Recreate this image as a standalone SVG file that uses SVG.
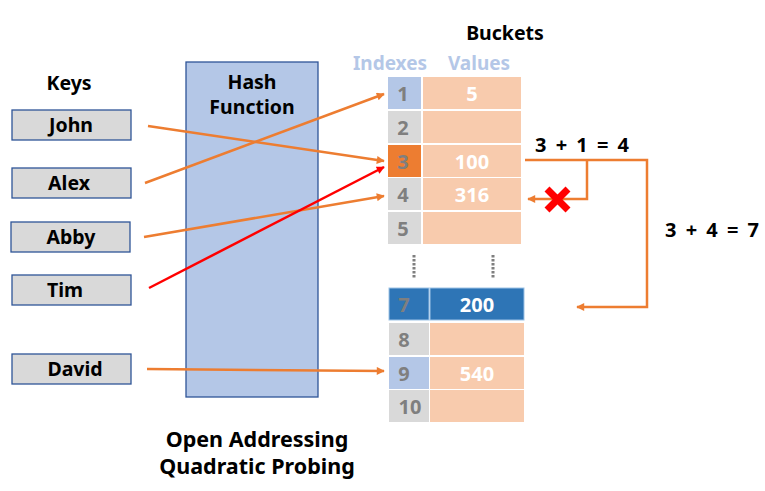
<svg xmlns="http://www.w3.org/2000/svg" width="765" height="491" viewBox="0 0 765 491">
<defs>
<style>
text{font-family:"Noto Sans","Liberation Sans",sans-serif;font-weight:bold}
.lbl{font-size:19.5px;fill:#000;text-anchor:middle}
.key{fill:#D9D9D9;stroke:#2F5597;stroke-width:1.3}
.hdr{font-size:19px;fill:#B4C7E7;text-anchor:middle}
.idx{font-size:20px;fill:#7F7F7F;text-anchor:middle}
.val{font-size:20px;fill:#fff;text-anchor:middle}
.gray{fill:#D9D9D9}
.peach{fill:#F8CBAD}
.lblue{fill:#B4C7E7}
.or{fill:none;stroke:#ED7D31;stroke-width:2.5}
.rd{fill:none;stroke:#FF0000;stroke-width:2.5}
.eq{font-size:20px;fill:#000;word-spacing:4px}
.cap{font-size:21.5px;fill:#000;text-anchor:middle}
</style>
<marker id="ao" viewBox="0 0 10 10" refX="9" refY="5" markerWidth="10" markerHeight="8" markerUnits="userSpaceOnUse" orient="auto"><path d="M0,0 L10,5 L0,10 z" fill="#ED7D31"/></marker>
<marker id="ar" viewBox="0 0 10 10" refX="9" refY="5" markerWidth="10" markerHeight="8" markerUnits="userSpaceOnUse" orient="auto"><path d="M0,0 L10,5 L0,10 z" fill="#FF0000"/></marker>
</defs>
<rect width="765" height="491" fill="#fff"/>

<g id="keys-title"><text class="lbl" x="69" y="90">Keys</text></g>
<g id="key-john"><rect class="key" x="12" y="110" width="119" height="30"/><text class="lbl" x="71" y="132">John</text></g>
<g id="key-alex"><rect class="key" x="12" y="168" width="119" height="30"/><text class="lbl" x="69" y="190">Alex</text></g>
<g id="key-abby"><rect class="key" x="11" y="222" width="119" height="30"/><text class="lbl" x="71" y="244">Abby</text></g>
<g id="key-tim"><rect class="key" x="12" y="275" width="119" height="30"/><text class="lbl" x="65" y="297">Tim</text></g>
<g id="key-david"><rect class="key" x="12" y="354" width="119" height="30"/><text class="lbl" x="75" y="376">David</text></g>

<g id="hash-function"><rect x="186" y="62" width="132" height="335" fill="#B4C7E7" stroke="#2F5597" stroke-width="1.3"/>
<text class="lbl" x="252" y="89">Hash</text><text class="lbl" x="252" y="114">Function</text></g>

<g id="buckets-title"><text class="lbl" x="505" y="40">Buckets</text>
<text class="hdr" x="390" y="70">Indexes</text><text class="hdr" x="479" y="70">Values</text></g>

<g id="bucket-1"><rect class="lblue" x="388" y="77" width="33" height="32"/><rect class="peach" x="423" y="77" width="98" height="32"/><text class="idx" x="403" y="101">1</text><text class="val" x="472" y="101">5</text></g>
<g id="bucket-2"><rect class="gray" x="388" y="111" width="33" height="32"/><rect class="peach" x="423" y="111" width="98" height="32"/><text class="idx" x="403" y="135">2</text></g>
<g id="bucket-3"><rect fill="#ED7D31" x="388" y="145" width="33" height="32"/><rect class="peach" x="423" y="145" width="98" height="32"/><text class="idx" x="403" y="169">3</text><text class="val" x="472" y="169">100</text></g>
<g id="bucket-4"><rect class="gray" x="388" y="178" width="33" height="32"/><rect class="peach" x="423" y="178" width="98" height="32"/><text class="idx" x="403" y="202">4</text><text class="val" x="472" y="202">316</text></g>
<g id="bucket-5"><rect class="gray" x="388" y="212" width="33" height="32"/><rect class="peach" x="423" y="212" width="98" height="32"/><text class="idx" x="403" y="236">5</text></g>

<g id="ellipsis"><line x1="414" y1="255" x2="414" y2="279" stroke="#7F7F7F" stroke-width="3" stroke-dasharray="2.5,1.5"/><line x1="493" y1="255" x2="493" y2="279" stroke="#7F7F7F" stroke-width="3" stroke-dasharray="2.5,1.5"/></g>

<g id="bucket-7"><rect fill="#2E75B6" stroke="#9DC3E6" stroke-width="1" x="389" y="288" width="40" height="32"/><rect fill="#2E75B6" stroke="#9DC3E6" stroke-width="1" x="430" y="288" width="94" height="32"/><text class="idx" x="404" y="312">7</text><text class="val" x="477" y="312">200</text></g>
<g id="bucket-8"><rect class="gray" x="389" y="323" width="40" height="32"/><rect class="peach" x="430" y="323" width="94" height="32"/><text class="idx" x="404" y="347">8</text></g>
<g id="bucket-9"><rect class="lblue" x="389" y="357" width="40" height="32"/><rect class="peach" x="430" y="357" width="94" height="32"/><text class="idx" x="404" y="381">9</text><text class="val" x="477" y="381">540</text></g>
<g id="bucket-10"><rect class="gray" x="389" y="390" width="40" height="32"/><rect class="peach" x="430" y="390" width="94" height="32"/><text class="idx" x="410" y="414">10</text></g>

<g id="connectors">
<line class="or" x1="148" y1="126" x2="384" y2="161" marker-end="url(#ao)"/>
<line class="or" x1="145" y1="183" x2="384" y2="94" marker-end="url(#ao)"/>
<line class="or" x1="144" y1="237" x2="384" y2="196" marker-end="url(#ao)"/>
<line class="rd" x1="149" y1="288" x2="384" y2="167" marker-end="url(#ar)"/>
<line class="or" x1="147" y1="369" x2="384" y2="371" marker-end="url(#ao)"/>
<polyline class="or" points="525,160 647,160 647,307 577,307" marker-end="url(#ao)" stroke-width="2"/>
<polyline class="or" points="587,160 587,199 528,199" marker-end="url(#ao)" stroke-width="2"/>
</g>

<g id="collision-mark"><path d="M547,189 L568,210 M568,189 L547,210" stroke="#FF0000" stroke-width="7"/></g>

<g id="probe-labels">
<text class="eq" x="535" y="152" xml:space="preserve">3 + 1 = 4</text>
<text class="eq" x="665" y="237" xml:space="preserve">3 + 4 = 7</text>
</g>

<g id="caption"><text class="cap" x="257" y="447">Open Addressing</text><text class="cap" x="257" y="474">Quadratic Probing</text></g>
</svg>
